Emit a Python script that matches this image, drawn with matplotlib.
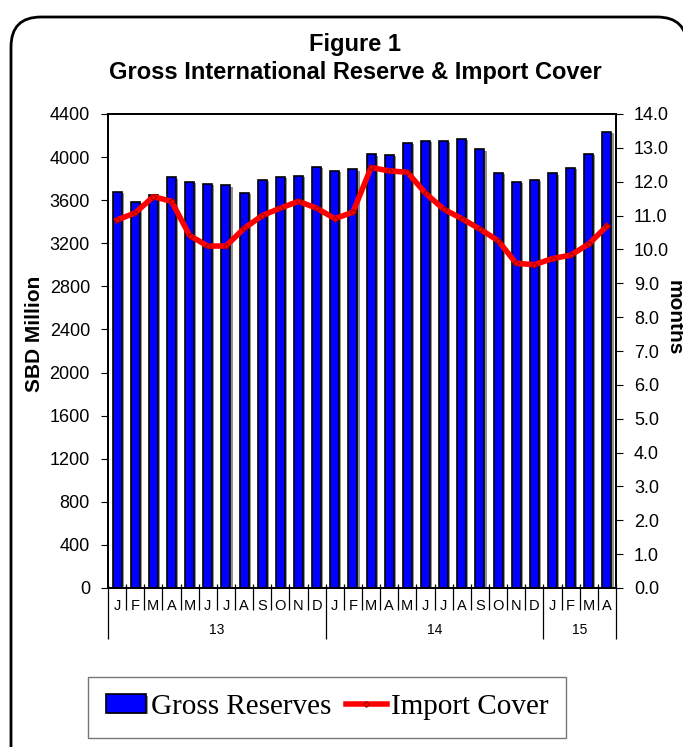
import numpy as np
import matplotlib.pyplot as plt
import matplotlib.patheffects as pe
from matplotlib.patches import FancyBboxPatch
from matplotlib.transforms import IdentityTransform

# data: Jan 2013 .. Apr 2015
months = list("JFMAMJJASOND") * 2 + list("JFMA")
years = ["13", "14", "15"]
year_len = [12, 12, 4]
reserves = [3680, 3583, 3651, 3812, 3769, 3750, 3738, 3667, 3787, 3815, 3824, 3911,
            3874, 3886, 4026, 4020, 4134, 4153, 4153, 4168, 4072, 3855, 3769, 3787,
            3849, 3899, 4029, 4233]
cover = [10.87, 11.08, 11.56, 11.42, 10.41, 10.10, 10.10, 10.62, 11.00, 11.22, 11.42, 11.22,
         10.91, 11.10, 12.42, 12.32, 12.28, 11.66, 11.19, 10.91, 10.60, 10.26, 9.59, 9.55,
         9.73, 9.83, 10.16, 10.69]

plt.rcParams['font.family'] = ['Liberation Sans', 'DejaVu Sans']

W, H = 683, 747
fig = plt.figure(figsize=(W / 100, H / 100), dpi=100)

# rounded frame around the whole figure
box = FancyBboxPatch((11, -30), 676, H - 17 + 30, boxstyle="round,pad=0,rounding_size=30",
                     transform=IdentityTransform(), facecolor='white', edgecolor='black',
                     linewidth=2, zorder=-5)
fig.add_artist(box)

ax = fig.add_axes([108 / W, 1 - 588 / H, (616 - 108) / W, (588 - 114) / H])
ax.patch.set_alpha(0)
x = np.arange(len(reserves))
bars = ax.bar(x, reserves, width=0.5, color='#0000ff', edgecolor='black', linewidth=1.2)
for b in bars:
    b.set_path_effects([pe.SimplePatchShadow(offset=(1.5, -1), shadow_rgbFace='#777777', alpha=0.8),
                        pe.Normal()])
ax.set_xlim(-0.5, len(x) - 0.5)
ax.set_ylim(0, 4400)
ax.set_yticks(np.arange(0, 4401, 400))
ax.tick_params(axis='y', direction='out', length=5, pad=8, labelsize=13)

ax2 = ax.twinx()
line, = ax2.plot(x, cover, color='red', lw=4, marker='D', ms=3, mfc='red',
                 mec='#990000', mew=0.7, solid_joinstyle='round')
ax2.set_ylim(0, 14)
ax2.set_yticks(np.arange(0, 14.1, 1))
ax2.yaxis.set_major_formatter('{x:.1f}')
ax2.tick_params(axis='y', direction='out', length=5, pad=8, labelsize=13)

for a in (ax, ax2):
    for s in a.spines.values():
        s.set_linewidth(1.3)

# category axis: separators, month labels, year labels
bounds = np.arange(-0.5, len(x), 1)
ax.set_xticks(bounds)
ax.set_xticklabels([''] * len(bounds))
ax.tick_params(axis='x', which='major', direction='out', length=16, width=0.9)
ybounds = np.cumsum([0] + year_len) - 0.5
for t, b in zip(ax.xaxis.get_major_ticks(), bounds):
    if np.any(np.isclose(ybounds, b)):
        t.tick1line.set_markersize(37)
ax.set_xticks(x, minor=True)
ax.set_xticklabels(months, minor=True)
ax.tick_params(axis='x', which='minor', length=0, pad=8, labelsize=10.5)

ax2.xaxis.set_visible(True)
ax2.set_xticks(bounds)
ax2.tick_params(axis='x', which='both', direction='in', length=3, width=0.9,
                labelbottom=False, top=False)
ax2.tick_params(axis='x', which='minor', length=0)

start = 0
for yr, n in zip(years, year_len):
    ax.text(start + (n - 1) / 2, -0.089, yr, transform=ax.get_xaxis_transform(),
            ha='center', va='center', fontsize=10)
    start += n

fig.text(35 / W, 1 - 334 / H, 'SBD Million', rotation=90, fontweight='bold', fontsize=15,
         ha='center', va='center')
fig.text(674 / W, 1 - 318 / H, 'months', rotation=-90, fontweight='bold', fontsize=15,
         ha='center', va='center')

fig.text(355 / W, 1 - 45 / H, 'Figure 1', ha='center', va='center', fontsize=17, fontweight='bold')
fig.text(355 / W, 1 - 73 / H, 'Gross International Reserve & Import Cover', ha='center',
         va='center', fontsize=17, fontweight='bold')

leg = fig.legend([bars, line], ['Gross Reserves', 'Import Cover'], loc='center',
                 bbox_to_anchor=(327 / W, 1 - 707 / H), ncol=2, numpoints=1,
                 prop={'family': 'Liberation Serif', 'size': 21}, fancybox=False,
                 edgecolor='#555555', handlelength=1.4, handleheight=0.6,
                 handletextpad=0.15, columnspacing=0.5, borderpad=0.6)
leg.get_frame().set_linewidth(1.0)

fig.savefig('out.png', dpi=100)
